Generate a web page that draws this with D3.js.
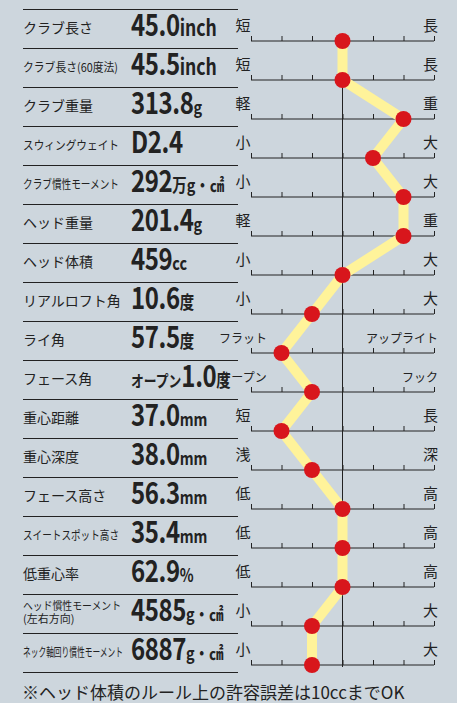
<!DOCTYPE html>
<html><head><meta charset="utf-8">
<script src="https://cdn.jsdelivr.net/npm/d3@7"></script>
<style>body{margin:0;background:#cdd6dd}</style>
</head><body>
<svg id="c" width="457" height="703"></svg>
<script>
// donnees
const labels = ["クラブ長さ","クラブ長さ(60度法)","クラブ重量","スウィングウェイト","クラブ慣性モーメント","ヘッド重量","ヘッド体積","リアルロフト角","ライ角","フェース角","重心距離","重心深度","フェース高さ","スイートスポット高さ","低重心率","ヘッド慣性モーメント","ネック軸回り慣性モーメント"];
const prefixes = ["","","","","","","","","","オープン","","","","","","",""];
const nums = ["45.0","45.5","313.8","D2.4","292","201.4","459","10.6","57.5","1.0","37.0","38.0","56.3","35.4","62.9","4585","6887"];
const units = ["inch","inch","g","","万g・㎠","g","cc","度","度","度","mm","mm","mm","mm","%","g・㎠","g・㎠"];
const leftEnds = ["短","短","軽","小","小","軽","小","小","フラット","オープン","短","浅","低","低","低","小","小"];
const rightEnds = ["長","長","重","大","大","重","大","大","アップライト","フック","長","深","高","高","高","大","大"];
const scores = [0,0,2,1,2,2,0,-1,-2,-1,-2,-1,0,0,0,-1,-1];

const svg = d3.select("#c");
const jp = "'Noto Sans CJK JP', sans-serif";
const x = d3.scaleLinear().domain([-3,3]).range([251,434]);
const y = d3.scaleLinear().domain([0,16]).range([41,665]);

// lignes de separation
svg.selectAll("line.sep").data(d3.range(18)).enter().append("line")
  .attr("x1",23).attr("x2",238)
  .attr("y1",i=>y(i)-32+0.5).attr("y2",i=>y(i)-32+0.5)
  .attr("stroke","#222").attr("stroke-width",1);

// libelles
labels.forEach((l,i)=>{
  const t = svg.append("text").attr("x",23).attr("font-family",jp).attr("fill","#222");
  if(i===15){
    t.attr("y",y(i)-16).attr("font-size",11).attr("textLength",98).attr("lengthAdjust","spacingAndGlyphs").text("ヘッド慣性モーメント");
    svg.append("text").attr("x",23).attr("y",y(i)-3).attr("font-family",jp).attr("font-size",11).attr("fill","#222").text("(左右方向)");
  } else {
    t.attr("y",y(i)-8).attr("font-size",14).text(l);
    if(l.length>7) t.attr("textLength", i===1?95:(l.length>10?100:96)).attr("lengthAdjust","spacingAndGlyphs").attr("font-size",12);
  }
  const v = svg.append("text").attr("transform",`translate(131,${y(i)-5}) scale(0.8,1)`).attr("fill","#222").attr("font-weight","bold");
  if(prefixes[i]) v.append("tspan").attr("font-family",jp).attr("font-size",16).text(prefixes[i]);
  v.append("tspan").attr("font-family",jp).attr("font-size",30).attr("letter-spacing",-0.5).text(nums[i]);
  if(units[i]) v.append("tspan").attr("font-family",jp).attr("font-size",units[i]=="inch"?22:18).text(units[i]);
});

// axes
labels.forEach((l,i)=>{
  const g = svg.append("g").attr("transform",`translate(0,${y(i)})`);
  const ax = d3.axisTop(x).ticks(6).tickSize(5).tickFormat("");
  g.call(ax);
  g.select(".domain").attr("d",`M${x(-3)},0H${x(3)}`).attr("stroke","#222");
  g.selectAll(".tick line").attr("stroke","#222");
  g.append("text").attr("x",243).attr("y",-10).attr("font-family",jp).attr("font-size",leftEnds[i].length>1?12:15).attr("fill","#222").text(leftEnds[i]);
  g.append("text").attr("x",438).attr("y",-10).attr("text-anchor","end").attr("font-family",jp).attr("font-size",rightEnds[i].length>1?12:15).attr("fill","#222").text(rightEnds[i]);
});

// ligne centrale
svg.append("line").attr("x1",x(0)).attr("x2",x(0)).attr("y1",y(1)).attr("y2",y(16)+2).attr("stroke","#222");

// trace
svg.append("path").datum(scores)
  .attr("d",d3.line().x(d=>x(d)).y((d,i)=>y(i)))
  .attr("fill","none").attr("stroke","#fff39a").attr("stroke-width",10).attr("stroke-linejoin","miter");
svg.selectAll("circle").data(scores).enter().append("circle")
  .attr("cx",d=>x(d)).attr("cy",(d,i)=>y(i)).attr("r",8).attr("fill","#d8161c");

svg.append("text").attr("x",22).attr("y",699).attr("font-family",jp).attr("font-size",17).attr("fill","#222")
  .text("※ヘッド体積のルール上の許容誤差は10ccまでOK");
</script>
</body></html>
